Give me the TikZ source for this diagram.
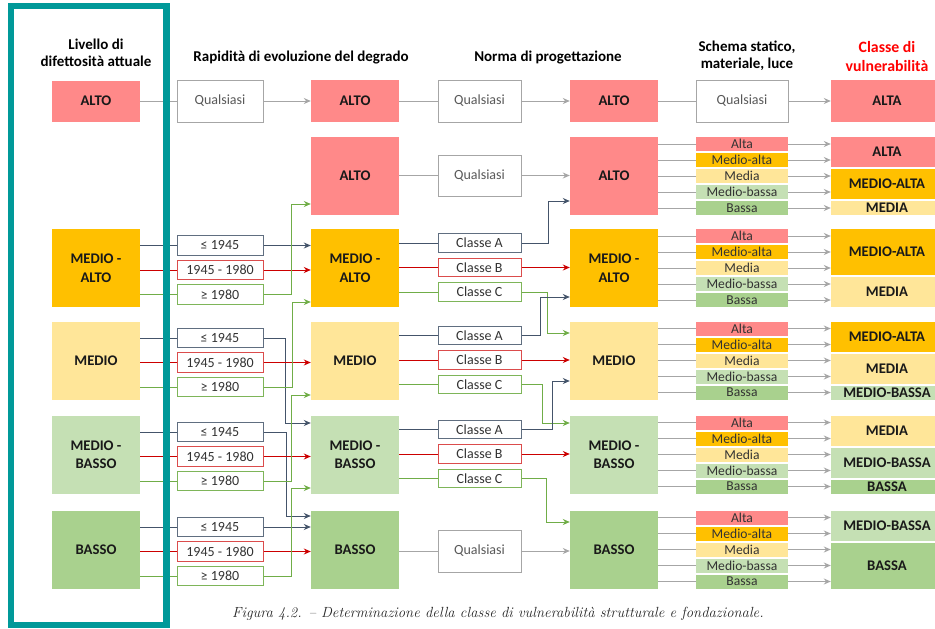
\documentclass[tikz,border=0pt]{standalone}
\usepackage{fontspec}
\setsansfont{Carlito}
\usepackage{xcolor}
\definecolor{colAlto}{RGB}{255,137,137}
\definecolor{colMedAlto}{RGB}{255,192,0}
\definecolor{colMedio}{RGB}{255,230,153}
\definecolor{colMedBasso}{RGB}{197,224,180}
\definecolor{colBasso}{RGB}{169,209,142}
\definecolor{colFrame}{RGB}{0,153,153}
\definecolor{colLnG}{RGB}{166,166,166}
\definecolor{colLnS}{RGB}{68,84,106}
\definecolor{colLnR}{RGB}{204,0,0}
\definecolor{colLnV}{RGB}{112,173,71}
\definecolor{colTitRed}{RGB}{255,0,0}
\usetikzlibrary{arrows.meta, calc}

\begin{document}
\begin{tikzpicture}[x=1pt, y=-1pt, >={Stealth[length=7pt, width=6pt]},
    every node/.style={font=\sffamily\fontsize{14}{17}\selectfont, inner sep=0pt, text=black!80},
    head/.style={font=\sffamily\bfseries\fontsize{15}{17}\selectfont, align=center, text=black},
    lvl/.style={minimum width=88pt, minimum height=78pt, align=center,
      font=\sffamily\bfseries\fontsize{14.7}{18.5}\selectfont, text=black!90},
    qbox/.style={draw=colLnG, line width=1pt, fill=white, minimum height=42pt, text=black!65},
    rbox/.style={draw, line width=1pt, fill=white, minimum width=86pt, minimum height=19.5pt},
    nbox/.style={draw, line width=1pt, fill=white, minimum width=83pt, minimum height=18.5pt},
    sbox/.style={minimum width=92pt, minimum height=14pt, font=\sffamily\fontsize{13.6}{14}\selectfont},
    vbox/.style={minimum width=112pt, font=\sffamily\bfseries\fontsize{14.7}{17}\selectfont, text=black!90},
    lnG/.style={colLnG, line width=1pt},
    lnS/.style={colLnS, line width=1pt},
    lnR/.style={colLnR, line width=1pt},
    lnV/.style={colLnV, line width=1pt}]
  \fill[white] (0,0) rectangle (935,629);
  \useasboundingbox (0,0) rectangle (935,629);

  \node[head] (hLiv) at (96,52.5) {Livello di\\difettosità attuale};
  \node[head] (hRap) at (301,58) {Rapidità di evoluzione del degrado};
  \node[head] (hNor) at (548,58) {Norma di progettazione};
  \node[head] (hSch) at (747,55.5) {Schema statico,\\materiale, luce};
  \node[head, text=colTitRed, font=\sffamily\bfseries\fontsize{15.8}{19}\selectfont] (hCla) at (887,56.5) {Classe di\\vulnerabilità};

  % prima riga
  \node[lvl, fill=colAlto, minimum height=41pt] (a0) at (96,101) {ALTO};
  \node[qbox, minimum width=86pt] (r0) at (220,101) {Qualsiasi};
  \node[lvl, fill=colAlto, minimum height=42pt] (d0) at (355,101) {ALTO};
  \node[qbox, minimum width=83pt] (n0) at (479.5,101) {Qualsiasi};
  \node[lvl, fill=colAlto, minimum height=42pt] (p0) at (614,101) {ALTO};
  \node[qbox, minimum width=92pt] (q0) at (742,101) {Qualsiasi};
  \node[vbox, fill=colAlto, minimum height=42pt] (v0) at (887,101) {ALTA};
  \draw[lnG] (a0.east) -- (r0.west);
  \draw[lnG, ->] (r0.east) -- (d0.west);
  \draw[lnG] (d0.east) -- (n0.west);
  \draw[lnG, ->] (n0.east) -- (p0.west);
  \draw[lnG] (p0.east) -- (q0.west);
  \draw[lnG, ->] (q0.east) -- (v0.west);

  % livelli
  \foreach \n/\g/\c/\t in {2/268/colMedAlto/{MEDIO -\\ALTO}, 3/360.5/colMedio/MEDIO,
      4/454.5/colMedBasso/{MEDIO -\\BASSO}, 5/549.5/colBasso/BASSO}{
    \node[lvl, fill=\c] (a\n) at (96,\g) {\t};
    \node[rbox, draw=colLnS!85] (r\n-a) at (220,{\g-22.5}) {≤ 1945};
    \node[rbox, draw=colLnR!70] (r\n-b) at (220,{\g+2}) {1945 - 1980};
    \node[rbox, draw=colLnV!90] (r\n-c) at (220,{\g+26.5}) {≥ 1980};
    \draw[lnS] (r\n-a.west -| a\n.east) -- (r\n-a.west);
    \draw[lnR] (r\n-b.west -| a\n.east) -- (r\n-b.west);
    \draw[lnV] (r\n-c.west -| a\n.east) -- (r\n-c.west);
  }
  \foreach \n/\g/\c/\t in {1/176/colAlto/ALTO, 2/268/colMedAlto/{MEDIO -\\ALTO},
      3/360.5/colMedio/MEDIO, 4/454.5/colMedBasso/{MEDIO -\\BASSO}, 5/549.5/colBasso/BASSO}{
    \node[lvl, fill=\c] (d\n) at (355,\g) {\t};
    \node[lvl, fill=\c] (p\n) at (614,\g) {\t};
  }
  \foreach \n/\g in {2/268, 3/360.5, 4/454.5}{
    \node[nbox, draw=colLnS!85] (n\n-a) at (479.5,{\g-25}) {Classe A};
    \node[nbox, draw=colLnR!70] (n\n-b) at (479.5,{\g-0.5}) {Classe B};
    \node[nbox, draw=colLnV!90] (n\n-c) at (479.5,{\g+24}) {Classe C};
    \draw[lnS] (n\n-a.west -| d\n.east) -- (n\n-a.west);
    \draw[lnR] (n\n-b.west -| d\n.east) -- (n\n-b.west);
    \draw[lnV] (n\n-c.west -| d\n.east) -- (n\n-c.west);
  }
  \node[qbox, minimum width=83pt, minimum height=41pt] (n1) at (479.5,175.5) {Qualsiasi};
  \node[qbox, minimum width=83pt] (n5) at (479.5,551) {Qualsiasi};
  \draw[lnG] (n1.west -| d1.east) -- (n1.west);
  \draw[lnG, ->] (n1.east) -- (n1.east -| p1.west);
  \draw[lnG] (n5.west -| d5.east) -- (n5.west);
  \draw[lnG, ->] (n5.east) -- (n5.east -| p5.west);

  % rapidita -> degrado
  \draw[lnS, ->] (r2-a.east) -- (r2-a.east -| d2.west);
  \draw[lnR, ->] (r2-b.east) -- (r2-b.east -| d2.west);
  \draw[lnV, ->] (r2-c.east) -- ++(28,0) |- ([yshift=-28pt]d1.west);
  \draw[lnS, ->] (r3-a.east) -- ++(22,0) |- ([yshift=31.5pt]d4.west);
  \draw[lnR, ->] (r3-b.east) -- (r3-b.east -| d3.west);
  \draw[lnV, ->] (r3-c.east) -- ++(29,0) |- ([yshift=-34pt]d2.west);
  \draw[lnS, ->] (r4-a.east) -- ++(23,0) |- ([yshift=33.5pt]d5.west);
  \draw[lnR, ->] (r4-b.east) -- (r4-b.east -| d4.west);
  \draw[lnV, ->] (r4-c.east) -- ++(28,0) |- ([yshift=-34.5pt]d3.west);
  \draw[lnS, ->] (r5-a.east) -- (r5-a.east -| d5.west);
  \draw[lnR, ->] (r5-b.east) -- (r5-b.east -| d5.west);
  \draw[lnV, ->] (r5-c.east) -- ++(28,0) |- ([yshift=-33.5pt]d4.west);

  % norma -> livello
  \draw[lnS, ->] (n2-a.east) -- ++(27,0) |- ([yshift=-25pt]p1.west);
  \draw[lnR, ->] (n2-b.east) -- (n2-b.east -| p2.west);
  \draw[lnV, ->] (n2-c.east) -- ++(26,0) |- ([yshift=27.5pt]p3.west);
  \draw[lnS, ->] (n3-a.east) -- ++(19,0) |- ([yshift=-29pt]p2.west);
  \draw[lnR, ->] (n3-b.east) -- (n3-b.east -| p3.west);
  \draw[lnV, ->] (n3-c.east) -- ++(21,0) |- ([yshift=31.5pt]p4.west);
  \draw[lnS, ->] (n4-a.east) -- ++(31,0) |- ([yshift=-20.5pt]p3.west);
  \draw[lnR, ->] (n4-b.east) -- (n4-b.east -| p4.west);
  \draw[lnV, ->] (n4-c.east) -- ++(25,0) |- ([yshift=27.5pt]p5.west);

  % schema statico
  \foreach \n/\g in {1/176, 2/268, 3/360.5, 4/454.5, 5/549.5}{
    \foreach \k/\l/\c in {1/Alta/colAlto, 2/Medio-alta/colMedAlto, 3/Media/colMedio,
        4/Medio-bassa/colMedBasso, 5/Bassa/colBasso}{
      \node[sbox, fill=\c] (s\n-\k) at (742,{\g-48+16*\k}) {\l};
      \draw[lnG] (s\n-\k.west -| p\n.east) -- (s\n-\k.west);
    }
  }

  % classe di vulnerabilita
  \foreach \n/\g/\i/\j/\l/\c in {1/176/1/2/ALTA/colAlto, 1/176/3/4/MEDIO-ALTA/colMedAlto,
      1/176/5/5/MEDIA/colMedio, 2/268/1/3/MEDIO-ALTA/colMedAlto, 2/268/4/5/MEDIA/colMedio,
      3/360.5/1/2/MEDIO-ALTA/colMedAlto, 3/360.5/3/4/MEDIA/colMedio,
      3/360.5/5/5/MEDIO-BASSA/colMedBasso, 4/454.5/1/2/MEDIA/colMedio,
      4/454.5/3/4/MEDIO-BASSA/colMedBasso, 4/454.5/5/5/BASSA/colBasso,
      5/549.5/1/2/MEDIO-BASSA/colMedBasso, 5/549.5/3/5/BASSA/colBasso}{
    \node[vbox, fill=\c, minimum height={16*(\j-\i)+14}] (v\n-\i) at (887,{\g-32+8*(\i+\j-2)}) {\l};
    \foreach \k in {\i,...,\j}{
      \draw[lnG, ->] (s\n-\k.east) -- (s\n-\k.east -| v\n-\i.west);
    }
  }

  \node[font=\rmfamily\itshape\fontsize{14.7}{17}\selectfont, text=black!85] (cap) at (498,614)
    {Figura 4.2. – Determinazione della classe di vulnerabilità strutturale e fondazionale.};

  \draw[colFrame, line width=6.5pt] (11,6) rectangle (166.5,625);
\end{tikzpicture}
\end{document}
